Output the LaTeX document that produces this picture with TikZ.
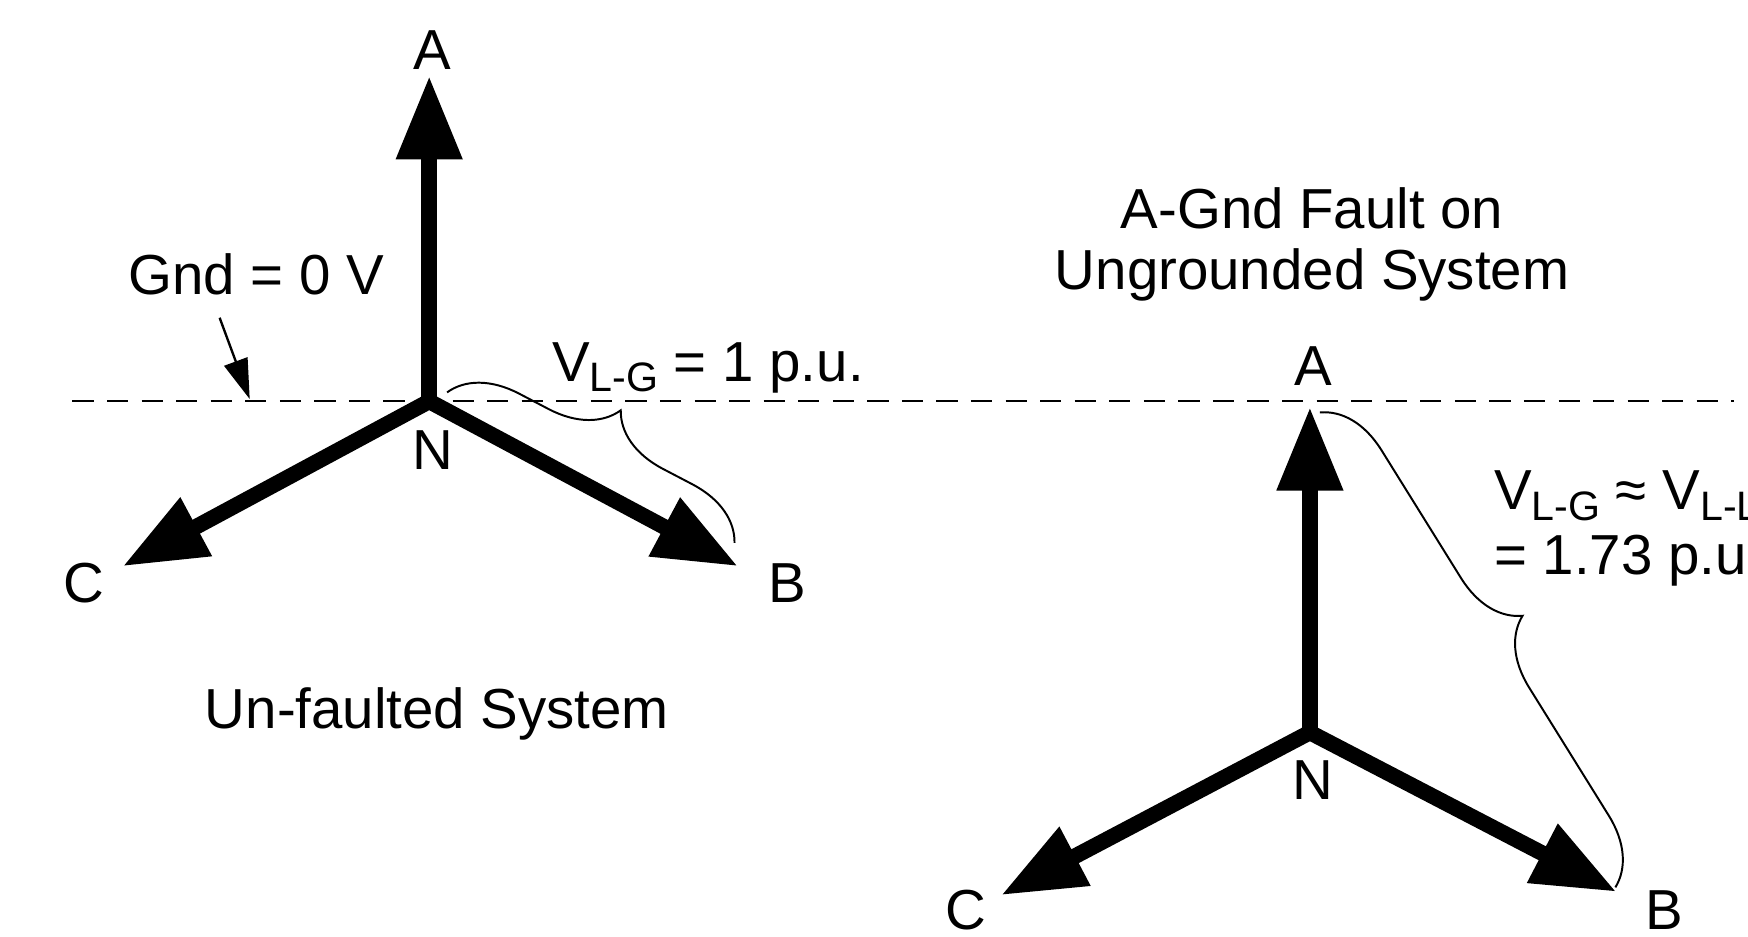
\documentclass[tikz,border=0pt]{standalone}
\usepackage{fontspec}
\setmainfont{Liberation Sans}
\usepackage{tikz}
\usetikzlibrary{arrows.meta,positioning,decorations.pathreplacing}
\newcommand{\vsub}[1]{\raisebox{-0.35ex}{\fontsize{10.5}{10.5}\selectfont #1}}
\tikzset{
  phasor/.style ={line width=4pt,-{Triangle[length=7.5mm,width=5.6mm]}},
  lbl/.style    ={inner sep=1pt,font=\fontsize{14.4}{15.5}\selectfont},
  gndline/.style={dashed,dash pattern=on 1.9mm off 1.2mm,line width=0.6pt},
  pointer/.style={line width=0.6pt,-{Triangle[length=3.6mm,width=2.2mm]}},
  bracket/.style={line width=0.5pt,decorate,decoration={brace,amplitude=0.58cm}}
}

\begin{document}
\begin{tikzpicture}[every node/.style={lbl}]
    \useasboundingbox (0,0) rectangle (15.68,8.40);
    % un-faulted system
    \coordinate (n1) at (3.85,4.80);
    \coordinate (a1) at (3.85,7.72);
    \coordinate (c1) at (1.10,3.32);
    \coordinate (b1) at (6.62,3.32);
    \draw[gndline] (0.65,4.80) coordinate (g0) -- (15.55,4.80) coordinate (g1);
    \draw[phasor] (n1) -- (a1); \draw[phasor] (n1) -- (c1); \draw[phasor] (n1) -- (b1);
    \node (la1) at (3.88,7.95) {A};
    \node (ln1) at (3.88,4.36) {N};
    \node (lc1) at (0.75,3.17) {C};
    \node (lb1) at (7.06,3.17) {B};
    \node (gnd) at (2.30,5.94) {Gnd = 0 V};
    \coordinate (gt) at (2.24,4.82);
    \draw[pointer] (1.97,5.55) -- (gt);
    \draw[bracket] (4.01,4.88) -- (6.59,3.53);
    \node (v1) at (6.35,5.10) {V\vsub{L-G} = 1 p.u.};
    \node (cap1) at (3.92,2.00) {Un-faulted System};
    % A-Gnd fault
    \coordinate (n2) at (11.75,1.83);
    \coordinate (a2) at (11.75,4.75);
    \coordinate (c2) at (8.98,0.37);
    \coordinate (b2) at (14.50,0.40);
    \draw[phasor] (n2) -- (a2); \draw[phasor] (n2) -- (c2); \draw[phasor] (n2) -- (b2);
    \node (la2) at (11.78,5.12) {A};
    \node (ln2) at (11.78,1.40) {N};
    \node (lc2) at (8.66,0.24) {C};
    \node (lb2) at (14.93,0.24) {B};
    \node[align=center] (cap2) at (11.77,6.21) {A-Gnd Fault on\\Ungrounded System};
    \draw[bracket] (11.84,4.70) -- (14.49,0.44);
    \node[align=left,anchor=west] (v2) at (13.36,3.66) {V\vsub{L-G} ≈ V\vsub{L-L}\\[1pt]= 1.73 p.u.};
\end{tikzpicture}
\end{document}
